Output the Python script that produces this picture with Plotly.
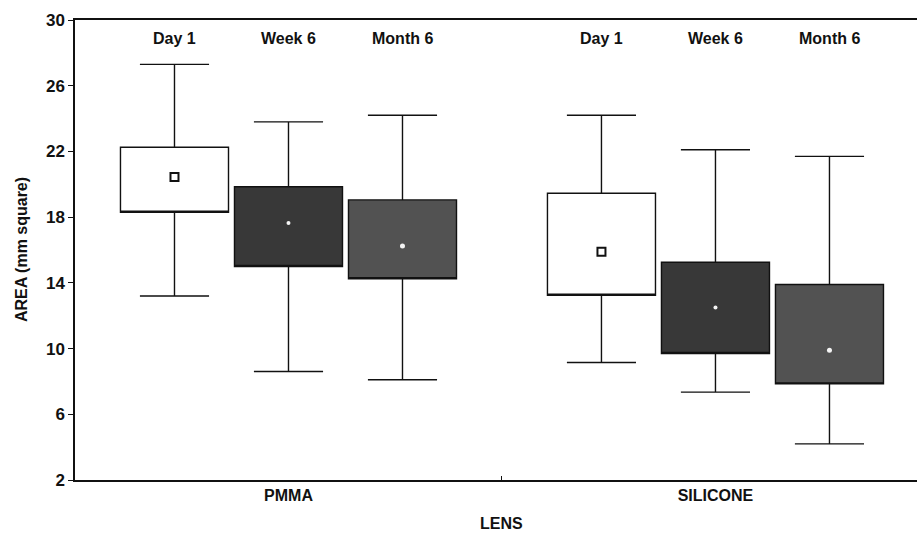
import plotly.graph_objects as go

lenses = ["PMMA", "SILICONE"]
times = ["Day 1", "Week 6", "Month 6"]

# per time point, values for [PMMA, SILICONE]
means = {"Day 1": [20.45, 15.9], "Week 6": [17.65, 12.5], "Month 6": [16.25, 9.9]}
box_hi = {"Day 1": [22.25, 19.45], "Week 6": [19.85, 15.25], "Month 6": [19.05, 13.9]}
box_lo = {"Day 1": [18.3, 13.25], "Week 6": [15.0, 9.7], "Month 6": [14.25, 7.85]}
whisk_hi = {"Day 1": [27.3, 24.2], "Week 6": [23.8, 22.1], "Month 6": [24.2, 21.7]}
whisk_lo = {"Day 1": [13.2, 9.15], "Week 6": [8.6, 7.35], "Month 6": [8.1, 4.2]}

y_ticks = [2, 6, 10, 14, 18, 22, 26, 30]

fills = {"Day 1": "#ffffff", "Week 6": "#383838", "Month 6": "#525252"}
offsets = {"Day 1": -0.267, "Week 6": 0.0, "Month 6": 0.267}

FONT = "Liberation Sans"
fig = go.Figure()

for t in times:
    xs = [i + offsets[t] for i in range(len(lenses))]
    fig.add_trace(go.Box(
        x=xs,
        q1=box_lo[t], median=box_lo[t], q3=box_hi[t],
        lowerfence=whisk_lo[t], upperfence=whisk_hi[t],
        width=0.253, whiskerwidth=0.64,
        fillcolor=fills[t],
        line=dict(color="#111111", width=1.4),
        boxpoints=False, showlegend=False, hoverinfo="skip",
    ))

for t in times:
    xs = [i + offsets[t] for i in range(len(lenses))]
    if t == "Day 1":
        mk = dict(symbol="square", size=8, color="#ffffff",
                  line=dict(color="#111111", width=2))
    else:
        mk = dict(symbol="circle", size=4 if t == "Week 6" else 5,
                  color="#f4f4f4", line=dict(width=0))
    fig.add_trace(go.Scatter(x=xs, y=means[t], mode="markers", marker=mk,
                             showlegend=False, hoverinfo="skip"))

for i, lens in enumerate(lenses):
    for t in times:
        fig.add_annotation(x=i + offsets[t], y=28.9, text="<b>%s</b>" % t, showarrow=False,
                           font=dict(family=FONT, size=16, color="#111111"),
                           xanchor="center", yanchor="middle")

fig.add_annotation(x=0.5, xref="x", y=-0.0935, yref="paper", text="<b>LENS</b>",
                   showarrow=False, font=dict(family=FONT, size=16, color="#111111"),
                   xanchor="center", yanchor="middle")
fig.add_annotation(x=-0.064, xref="paper", y=0.5, yref="paper", text="<b>AREA (mm square)</b>",
                   showarrow=False, textangle=-90,
                   font=dict(family=FONT, size=16, color="#111111"),
                   xanchor="center", yanchor="middle")

fig.update_layout(
    width=917, height=535,
    margin=dict(l=75, r=0, t=20, b=55, autoexpand=False),
    paper_bgcolor="white", plot_bgcolor="white",
    font=dict(family=FONT, size=17, color="#111111"),
)
fig.update_xaxes(
    range=[-0.5, 1.472], automargin=False,
    tickvals=list(range(len(lenses))), ticktext=["<b>%s</b>" % l for l in lenses],
    ticks="", showgrid=False, zeroline=False,
    showline=True, linecolor="#111111", linewidth=1.5, mirror=True,
    minor=dict(tickvals=[0.5], ticks="inside", ticklen=4, tickcolor="#111111"),
    tickfont=dict(family=FONT, size=16),
)
fig.update_yaxes(
    range=[2, 30], automargin=False, tickvals=y_ticks, ticktext=["<b>%d</b>" % v for v in y_ticks],
    ticks="outside", ticklen=5, tickcolor="#111111",
    showgrid=False, zeroline=False,
    showline=True, linecolor="#111111", linewidth=1.5,
    tickfont=dict(family=FONT, size=17),
)

fig.write_html("out.html", config={"displayModeBar": False},
               post_script="document.body.style.margin='0px';")
